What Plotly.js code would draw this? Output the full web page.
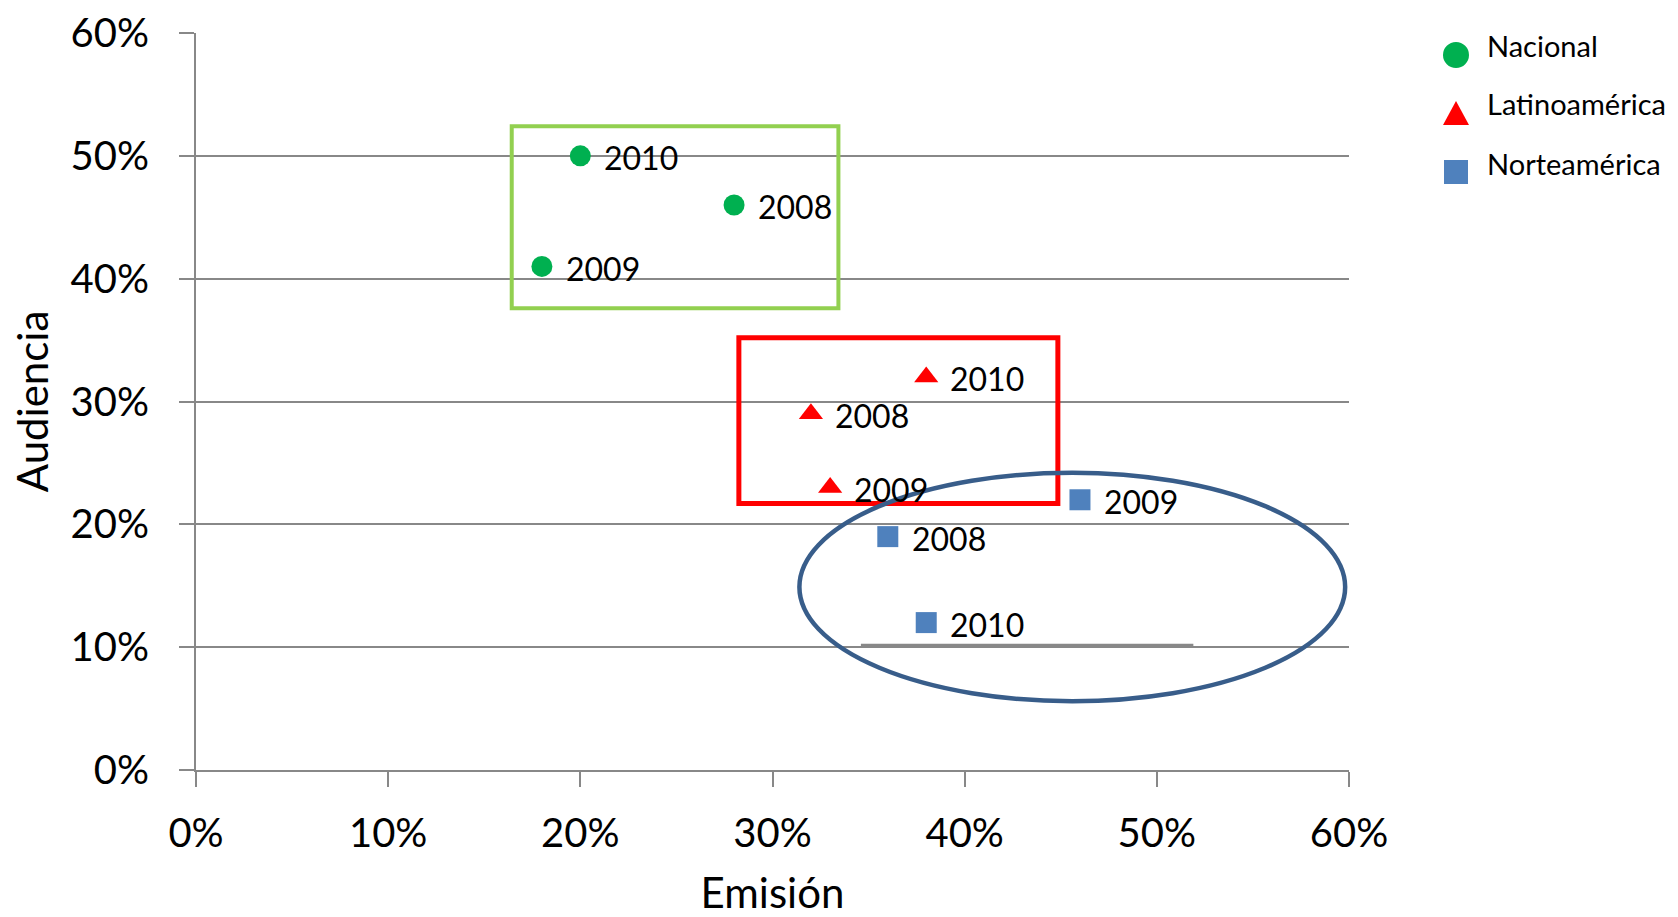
<!DOCTYPE html>
<html>
<head>
<meta charset="utf-8">
<script src="https://cdn.plot.ly/plotly-3.0.1.min.js"></script>
<style>html,body{margin:0;padding:0;background:#fff;}#chart{width:1678px;height:917px;}</style>
</head>
<body>
<div id="chart"></div>
<script>
// Data
const seriesNames = ['Nacional', 'Latinoamérica', 'Norteamérica'];
const seriesColors = ['#00B050', '#FF0000', '#4F81BD'];
const nacionalX = [0.20, 0.28, 0.18];
const nacionalY = [0.50, 0.46, 0.41];
const nacionalYears = ['2010', '2008', '2009'];
const latinoX = [0.38, 0.32, 0.33];
const latinoY = [0.32, 0.29, 0.23];
const latinoYears = ['2010', '2008', '2009'];
const norteX = [0.46, 0.36, 0.38];
const norteY = [0.22, 0.19, 0.12];
const norteYears = ['2009', '2008', '2010'];
const tickVals = [0, 0.1, 0.2, 0.3, 0.4, 0.5, 0.6];
const tickText = ['0%', '10%', '20%', '30%', '40%', '50%', '60%'];

const FONT = 'Lato, "Open Sans", sans-serif';

function mk(name, xs, ys, color, symbol) {
  return {
    type: 'scatter', mode: 'markers', name: name,
    x: xs, y: ys,
    marker: {color: color, symbol: symbol, size: 21, line: {width: 0}},
    cliponaxis: false, hoverinfo: 'skip', showlegend: false
  };
}

const traces = [
  mk(seriesNames[0], nacionalX, nacionalY, seriesColors[0], 'circle'),
  mk(seriesNames[1], latinoX, latinoY, seriesColors[1], 'triangle-up'),
  mk(seriesNames[2], norteX, norteY, seriesColors[2], 'square')
];

// point labels built from the data arrays
const annotations = [];
[[nacionalX, nacionalY, nacionalYears], [latinoX, latinoY, latinoYears], [norteX, norteY, norteYears]].forEach(function (s) {
  s[0].forEach(function (xv, i) {
    annotations.push({
      x: xv, y: s[1][i], xref: 'x', yref: 'y', text: s[2][i],
      showarrow: false, xanchor: 'left', yanchor: 'middle',
      xshift: 22, yshift: -2,
      font: {family: FONT, size: 32, color: '#000'}
    });
  });
});

// custom legend (text as annotations, symbols as pixel-sized shapes)
const legendTextY = [0.9837, 0.9037, 0.8223];
const legendSymY = [0.9702, 0.8915, 0.8114];
const legendTextX = 1.1178;
const legendSymX = 1.0928;
seriesNames.forEach(function (n, i) {
  annotations.push({
    x: legendTextX, y: legendTextY[i], xref: 'paper', yref: 'paper', text: n,
    showarrow: false, xanchor: 'left', yanchor: 'middle',
    font: {family: FONT, size: 29, color: '#000'}
  });
});

const shapes = [
  {type: 'rect', xref: 'x', yref: 'y', x0: 0.1643, x1: 0.3343, y0: 0.376, y1: 0.524,
   line: {color: '#92D050', width: 4}},
  {type: 'rect', xref: 'x', yref: 'y', x0: 0.2825, x1: 0.4485, y0: 0.217, y1: 0.352,
   line: {color: '#FF0000', width: 5}},
  {type: 'circle', xref: 'x', yref: 'y', x0: 0.314, x1: 0.598, y0: 0.056, y1: 0.242,
   line: {color: '#385D8A', width: 4.5}},
  {type: 'line', xref: 'x', yref: 'y', x0: 0.346, x1: 0.519, y0: 0.1015, y1: 0.1015,
   line: {color: '#888', width: 3}},
  // legend symbols
  {type: 'circle', xref: 'paper', yref: 'paper', xsizemode: 'pixel', ysizemode: 'pixel',
   xanchor: legendSymX, yanchor: legendSymY[0], x0: -13, x1: 13, y0: -13, y1: 13,
   fillcolor: seriesColors[0], line: {width: 0}},
  {type: 'path', xref: 'paper', yref: 'paper', xsizemode: 'pixel', ysizemode: 'pixel',
   xanchor: legendSymX, yanchor: legendSymY[1], path: 'M -13 -12 L 13 -12 L 0 12 Z',
   fillcolor: seriesColors[1], line: {width: 0}},
  {type: 'rect', xref: 'paper', yref: 'paper', xsizemode: 'pixel', ysizemode: 'pixel',
   xanchor: legendSymX, yanchor: legendSymY[2], x0: -12, x1: 12, y0: -12, y1: 12,
   fillcolor: seriesColors[2], line: {width: 0}}
];

const layout = {
  width: 1678, height: 917,
  margin: {l: 196, r: 329, t: 33, b: 147},
  paper_bgcolor: '#fff', plot_bgcolor: '#fff',
  font: {family: FONT, color: '#000'},
  showlegend: false,
  xaxis: {
    range: [0, 0.6], tickvals: tickVals, ticktext: tickText,
    showgrid: false, zeroline: false,
    showline: true, linecolor: '#888', linewidth: 2,
    ticks: 'outside', ticklen: 15, tickcolor: '#888', tickwidth: 2,
    ticklabelstandoff: 12,
    tickfont: {family: FONT, size: 40, color: '#000'},
    title: {text: 'Emisión', font: {family: FONT, size: 42, color: '#000'}, standoff: 30},
    fixedrange: true
  },
  yaxis: {
    range: [0, 0.6], tickvals: tickVals, ticktext: tickText,
    showgrid: true, gridcolor: '#888', gridwidth: 2, zeroline: false,
    showline: true, linecolor: '#888', linewidth: 2,
    ticks: 'outside', ticklen: 15, tickcolor: '#888', tickwidth: 2,
    ticklabelstandoff: 22,
    tickfont: {family: FONT, size: 40, color: '#000'},
    title: {text: 'Audiencia', font: {family: FONT, size: 42, color: '#000'}, standoff: 9},
    fixedrange: true
  },
  annotations: annotations,
  shapes: shapes
};

Plotly.newPlot('chart', traces, layout, {displayModeBar: false, staticPlot: true});
</script>
</body>
</html>
